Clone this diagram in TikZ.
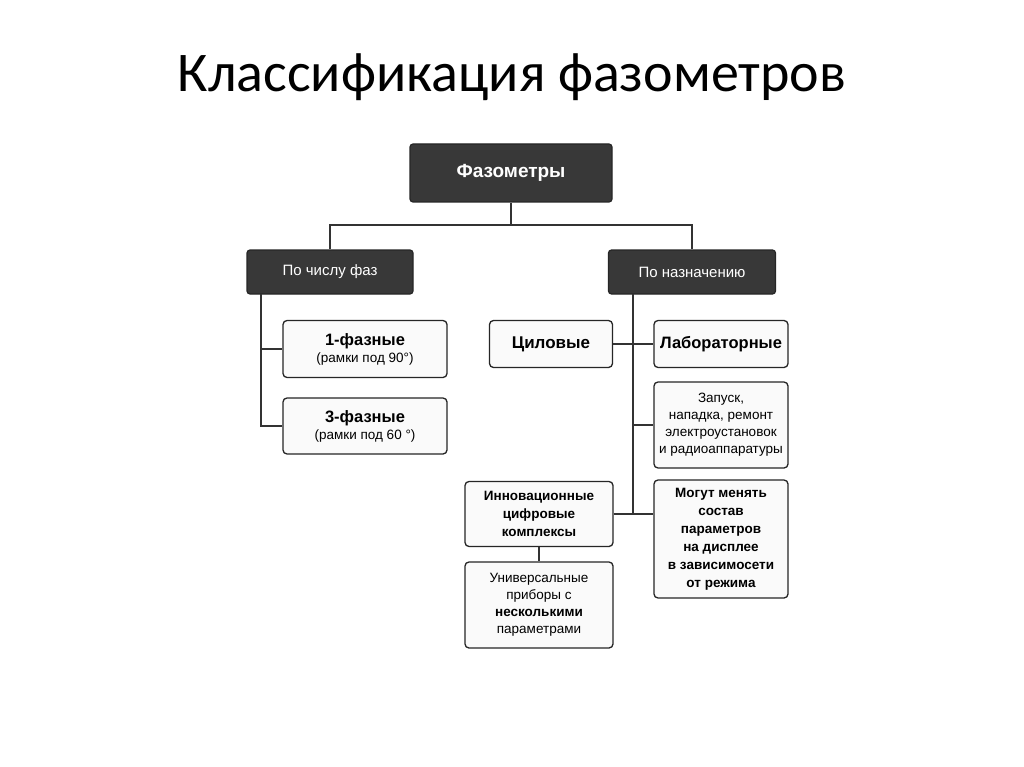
\documentclass[tikz,border=0pt]{standalone}
\usepackage{fontspec}
\setmainfont{Liberation Sans}
\newfontfamily\titlefont{Carlito}
\begin{document}
\begin{tikzpicture}[x=1pt,y=-1pt,
  dark/.style={draw=black!85,fill=black!78,text=white,rounded corners=3pt,line width=1.2pt,align=center,inner sep=0pt},
  light/.style={draw=black!85,fill=black!2,rounded corners=4pt,line width=1.3pt,align=center,inner sep=0pt,font=\fontsize{13.5}{17}\selectfont},
  ln/.style={line width=1.3pt,draw=black!80}]
\useasboundingbox (0,0) rectangle (1024,767);
\fill[white] (0,0) rectangle (1024,767);
\node[font=\titlefont\fontsize{56}{62}\selectfont] (title) at (512,77) {Классификация фазометров};
\node[dark,minimum width=202pt,minimum height=58pt,font=\fontsize{19}{22}\selectfont\bfseries] (root) at (511,173) {Фазометры};
\node[dark,minimum width=166pt,minimum height=44pt,font=\fontsize{15}{18}\selectfont] (a) at (330,272) {По числу фаз};
\node[dark,minimum width=167pt,minimum height=44pt,font=\fontsize{15}{18}\selectfont] (b) at (692,272) {По назначению};
\node[light,minimum width=164pt,minimum height=57pt] (a1) at (365,349) {{\fontsize{16.5}{19}\selectfont\bfseries 1-фазные}\\(рамки под 90°)};
\node[light,minimum width=164pt,minimum height=56pt] (a3) at (365,426) {{\fontsize{16.5}{19}\selectfont\bfseries 3-фазные}\\(рамки под 60 °)};
\node[light,minimum width=123pt,minimum height=47pt,font=\fontsize{17}{19}\selectfont\bfseries] (c) at (551,344) {Циловые};
\node[light,minimum width=134pt,minimum height=47pt,font=\fontsize{16.5}{19}\selectfont\bfseries] (l) at (721,344) {Лабораторные};
\node[light,minimum width=134pt,minimum height=86pt] (z) at (721,425) {Запуск,\\нападка, ремонт\\электроустановок\\и радиоаппаратуры};
\node[light,minimum width=134pt,minimum height=118pt,font=\fontsize{13.5}{18}\selectfont\bfseries] (m) at (721,539) {Могут менять\\состав\\параметров\\на дисплее\\в зависимосети\\от режима};
\node[light,minimum width=148pt,minimum height=65pt,font=\fontsize{13.5}{18}\selectfont\bfseries] (i) at (539,514) {Инновационные\\цифровые\\комплексы};
\node[light,minimum width=148pt,minimum height=86pt] (u) at (539,605) {Универсальные\\приборы с\\{\bfseries несколькими}\\параметрами};
\coordinate (j) at (511,225);
\draw[ln] (root.south) -- (j);
\draw[ln] (a.north) |- (j) -| (b.north);
\draw[ln] (261,294) |- (a1.west);
\draw[ln] (261,349) |- (a3.west);
\draw[ln] (633,294) -- (633,514);
\draw[ln] (c.east) -- (l.west);
\draw[ln] (633,425) -- (z.west);
\draw[ln] (i.east) -- (i.east -| m.west);
\draw[ln] (i.south) -- (u.north);
\end{tikzpicture}
\end{document}
